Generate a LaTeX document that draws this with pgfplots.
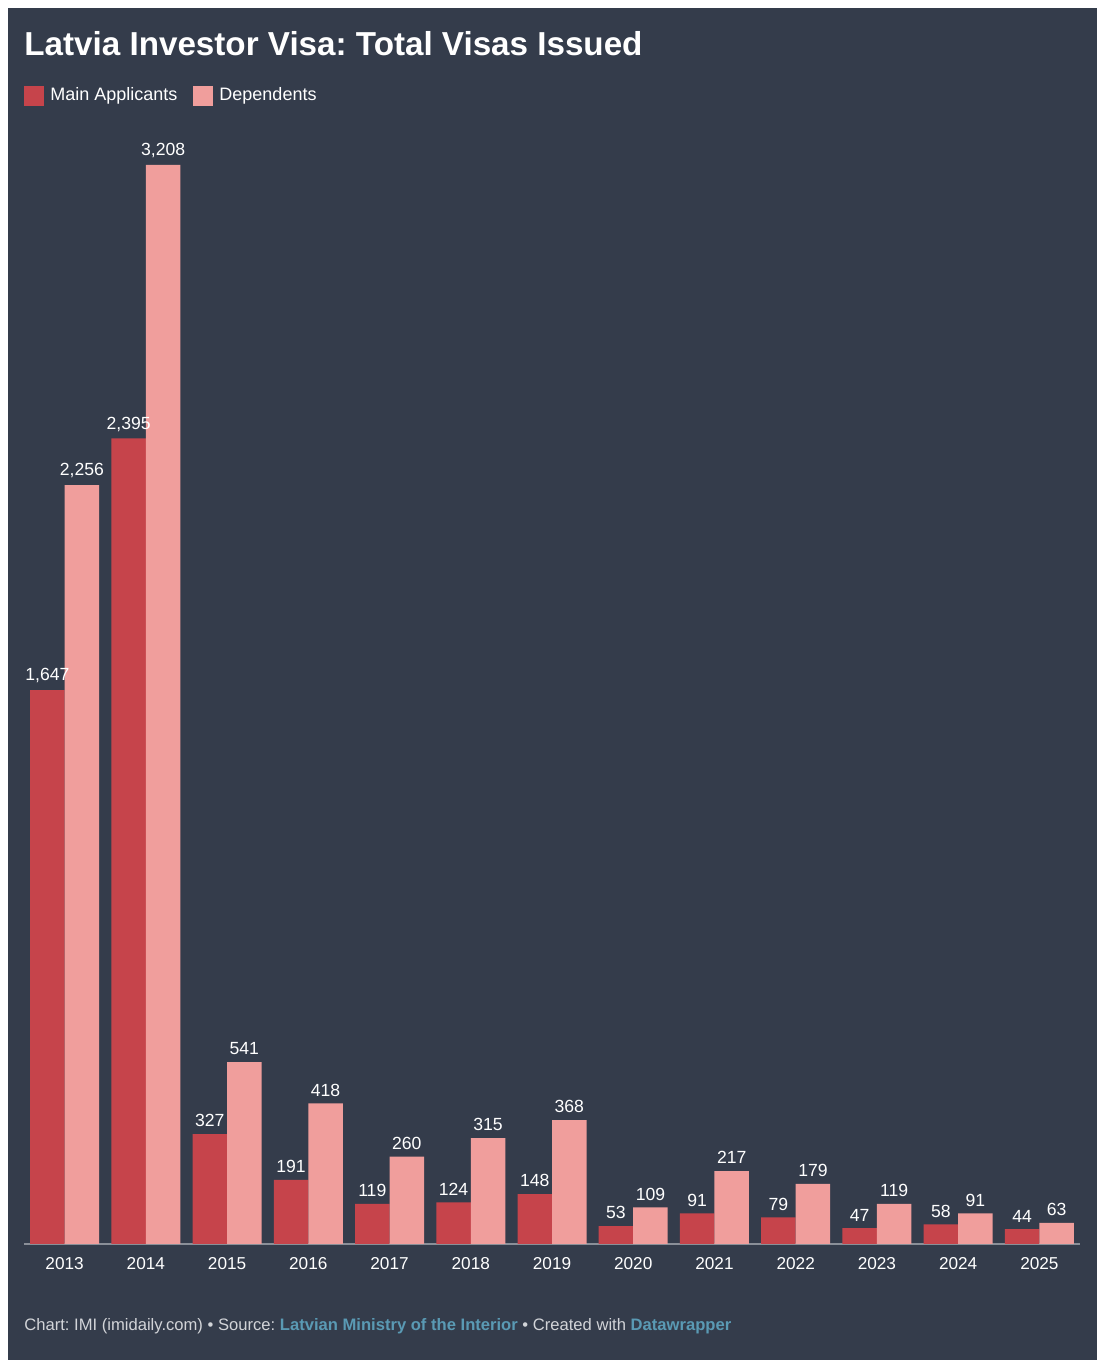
\documentclass[border=0pt]{standalone}
\usepackage{fontspec}
\setmainfont{Liberation Sans}
\usepackage{pgfplots}
\pgfplotsset{compat=1.18}
\frenchspacing

\definecolor{bg}{HTML}{343C4B}
\definecolor{mainred}{HTML}{C6444B}
\definecolor{deppink}{HTML}{F09E9C}
\definecolor{linkblue}{HTML}{5A9AB4}
\definecolor{foot}{HTML}{D2D4D8}
\definecolor{baseline}{HTML}{8A8F98}

\pgfplotsset{sqlegend/.style={legend image code/.code={\fill[##1] (0pt,-5pt) rectangle (10pt,5pt);}}}

\begin{document}
\begin{tikzpicture}
% page: 1102x1368 px at 0.5pt per px
\fill[white] (0pt,0pt) rectangle (551pt,684pt);
\fill[bg] (4pt,4pt) rectangle (548.5pt,680pt);

\node[anchor=base west, inner sep=0pt, text=white, font=\bfseries\fontsize{16.6}{18}\selectfont]
  at (12pt,656pt) {Latvia Investor Visa: Total Visas Issued};

\begin{axis}[
    at={(12pt,62pt)}, anchor=south west,
    scale only axis,
    width=528pt, height=539.5pt,
    ybar=0pt, bar width=17.25pt,
    xmin=-0.5, xmax=12.5,
    ymin=0, ymax=3208,
    clip=false,
    axis y line=none,
    axis x line*=bottom,
    x axis line style={draw=baseline, line width=1pt, -},
    xtick={0,...,12},
    xticklabels={2013,2014,2015,2016,2017,2018,2019,2020,2021,2022,2023,2024,2025},
    xtick style={draw=none},
    xticklabel style={text=white, font=\fontsize{8.6}{10}\selectfont, yshift=1pt},
    nodes near coords,
    every node near coord/.append style={text=white, font=\fontsize{8.8}{10}\selectfont},
    /pgf/number format/.cd, fixed, precision=0, 1000 sep={,}, assume math mode=true,
    /pgfplots/.cd,
    legend columns=-1,
    legend style={draw=none, fill=none, at={(0,1)}, anchor=west, yshift=34.5pt,
        inner sep=0pt, text=white, font=\fontsize{9}{10}\selectfont,
        /tikz/every odd column/.append style={column sep=1pt},
        /tikz/every even column/.append style={column sep=6pt}},
]
\addplot[fill=mainred, draw=none, sqlegend] coordinates {
    (0,1647) (1,2395) (2,327) (3,191) (4,119) (5,124) (6,148)
    (7,53) (8,91) (9,79) (10,47) (11,58) (12,44)
};
\addplot[fill=deppink, draw=none, sqlegend] coordinates {
    (0,2256) (1,3208) (2,541) (3,418) (4,260) (5,315) (6,368)
    (7,109) (8,217) (9,179) (10,119) (11,91) (12,63)
};
\legend{Main Applicants, Dependents}
\end{axis}

\node[anchor=base west, inner sep=0pt, font=\fontsize{8.3}{10}\selectfont, text=foot]
  at (12pt,18.5pt) {Chart: IMI (imidaily.com) \textbullet{} Source: \textcolor{linkblue}{\bfseries Latvian Ministry of the Interior} \textbullet{} Created with \textcolor{linkblue}{\bfseries Datawrapper}};
\end{tikzpicture}
\end{document}
